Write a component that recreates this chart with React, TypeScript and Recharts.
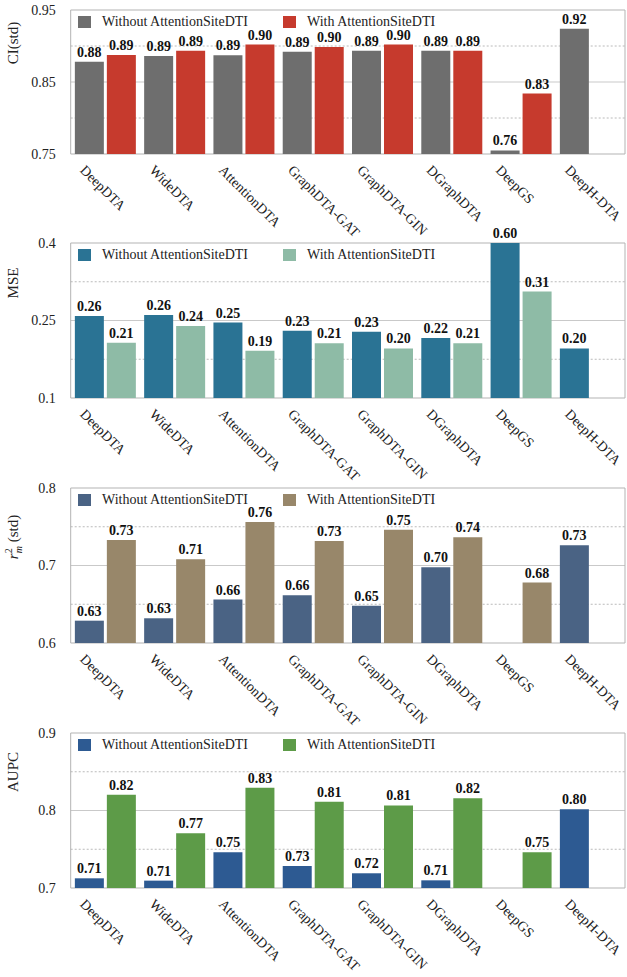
import React from 'react';
import { BarChart, Bar, XAxis, YAxis, CartesianGrid, ReferenceArea, LabelList, Legend } from 'recharts';

const categories = ['DeepDTA', 'WideDTA', 'AttentionDTA', 'GraphDTA-GAT', 'GraphDTA-GIN', 'DGraphDTA', 'DeepGS', 'DeepH-DTA'];

const ciWithout = [0.878, 0.886, 0.887, 0.892, 0.8935, 0.8935, 0.755, 0.924];
const ciWith = [0.8875, 0.8935, 0.902, 0.8986, 0.902, 0.8935, 0.834, null];

const mseWithout = [0.2587, 0.2606, 0.246, 0.230, 0.228, 0.216, 0.60, 0.196];
const mseWith = [0.207, 0.2394, 0.1915, 0.206, 0.196, 0.206, 0.306, null];

const rmWithout = [0.6288, 0.6319, 0.656, 0.6615, 0.648, 0.6977, null, 0.726];
const rmWith = [0.7329, 0.708, 0.756, 0.7316, 0.746, 0.7364, 0.678, null];

const aupcWithout = [0.7125, 0.7095, 0.746, 0.7284, 0.719, 0.7099, null, 0.8016];
const aupcWith = [0.8204, 0.7705, 0.8294, 0.8114, 0.8066, 0.8157, 0.746, null];

const legendNames = ['Without AttentionSiteDTI', 'With AttentionSiteDTI'];

const FONT = '"Liberation Serif", "Times New Roman", serif';
const MT = 20;
const XH = 95;

type Panel = {
  key: string;
  top: number;
  plotH: number;
  domain: [number, number];
  without: (number | null)[];
  withV: (number | null)[];
  colors: [string, string];
  title: React.ReactNode;
  titleY: number;
};

const panels: Panel[] = [
  {
    key: 'ci', top: 10, plotH: 144, domain: [0.75, 0.95], without: ciWithout, withV: ciWith,
    colors: ['#6e6e6e', '#c63a2d'], title: 'CI(std)', titleY: 33,
  },
  {
    key: 'mse', top: 243, plotH: 155, domain: [0.1, 0.4], without: mseWithout, withV: mseWith,
    colors: ['#2a7394', '#8ebba6'], title: 'MSE', titleY: 40,
  },
  {
    key: 'rm', top: 488, plotH: 155, domain: [0.6, 0.8], without: rmWithout, withV: rmWith,
    colors: ['#4a6384', '#98876a'], title: 'rm', titleY: 49,
  },
  {
    key: 'aupc', top: 733, plotH: 155, domain: [0.7, 0.9], without: aupcWithout, withV: aupcWith,
    colors: ['#2d5a92', '#5d9b48'], title: 'AUPC', titleY: 39,
  },
];

const XTick = (props: any) => {
  const { x, y, payload } = props;
  const px = Number(x) - 26;
  const py = Number(y) + 17;
  return (
    <g transform={`translate(${px}, ${py}) rotate(45)`}>
      <text x={0} y={0} textAnchor="start" fontFamily={FONT} fontSize={14} fill="#222">
        {payload.value}
      </text>
    </g>
  );
};

const makeValueLabel = (top: number) => (props: any) => {
  const { x, y, width, value } = props;
  if (value === null || value === undefined) return null;
  const ty = Math.max(Number(y), top) - 5;
  return (
    <text x={Number(x) + Number(width) / 2} y={ty} textAnchor="middle" fontFamily={FONT}
      fontWeight="bold" fontSize={14} fill="#111">
      {Number(value).toFixed(2)}
    </text>
  );
};

const AxisTitle = ({ panel }: { panel: Panel }) => {
  const cx = 18;
  const cy = MT + panel.titleY;
  if (panel.key === 'rm') {
    return (
      <text transform={`translate(${cx}, ${cy}) rotate(-90)`} textAnchor="middle" fontFamily={FONT} fontSize={15} fill="#222">
        <tspan fontStyle="italic">r</tspan>
        <tspan fontSize={10} dy={-6}>2</tspan>
        <tspan fontSize={10} fontStyle="italic" dx={-5} dy={10}>m</tspan>
        <tspan dy={-4}>{'  (std)'}</tspan>
      </text>
    );
  }
  return (
    <text transform={`translate(${cx}, ${cy}) rotate(-90)`} textAnchor="middle" fontFamily={FONT} fontSize={15} fill="#222">
      {panel.title}
    </text>
  );
};

const makeLegend = (colors: [string, string]) => () => (
  <div style={{ position: 'relative', height: 16, fontFamily: FONT, fontSize: 14, color: '#222' }}>
    {legendNames.map((n, i) => (
      <div key={n} style={{ position: 'absolute', left: i === 0 ? 0 : 205, top: 0, display: 'flex', alignItems: 'center', whiteSpace: 'nowrap' }}>
        <span style={{ display: 'inline-block', width: 13, height: 12, background: colors[i], marginRight: 11 }} />
        <span>{n}</span>
      </div>
    ))}
  </div>
);

const PanelChart = ({ panel }: { panel: Panel }) => {
  const data = categories.map((c, i) => ({ name: c, without: panel.without[i], with: panel.withV[i] }));
  const [lo, hi] = panel.domain;
  const mid = (lo + hi) / 2;
  const q1 = (lo + mid) / 2;
  const q3 = (mid + hi) / 2;
  const H = MT + panel.plotH + XH;
  return (
    <div style={{ position: 'absolute', left: 0, top: panel.top - MT, width: 627, height: H }}>
      <BarChart width={627} height={H} data={data} margin={{ top: MT, right: 2, left: 0, bottom: 0 }}
        barCategoryGap="6%" barGap={3} style={{ overflow: 'visible' }}>
        <CartesianGrid vertical={false} horizontalValues={[mid]} stroke="#c9c9c9" strokeWidth={1} />
        <CartesianGrid vertical={false} horizontalValues={[q1, q3]} stroke="#a8a8a8" strokeWidth={0.8} strokeDasharray="2 2" />
        <XAxis dataKey="name" interval={0} tickLine={false} axisLine={false} tickSize={0} tickMargin={0}
          height={XH} tick={<XTick />} />
        <YAxis width={70.7} domain={[lo, hi]} ticks={[lo, mid, hi]} allowDataOverflow
          tickLine={false} axisLine={false} tickSize={0} tickMargin={15}
          tickFormatter={(v: number) => String(Number(v.toFixed(2)))}
          tick={{ fontFamily: FONT, fontSize: 14, fill: '#222' }}
          label={<AxisTitle panel={panel} />} />
        <Legend layout="horizontal" verticalAlign="middle" align="center"
          wrapperStyle={{ top: MT + 4, left: 78, width: 500, height: 16 }}
          content={makeLegend(panel.colors)} />
        <Bar dataKey="without" name={legendNames[0]} fill={panel.colors[0]} isAnimationActive={false}>
          <LabelList dataKey="without" content={makeValueLabel(MT)} />
        </Bar>
        <Bar dataKey="with" name={legendNames[1]} fill={panel.colors[1]} isAnimationActive={false}>
          <LabelList dataKey="with" content={makeValueLabel(MT)} />
        </Bar>
        <ReferenceArea y1={lo} y2={hi} fill="none" stroke="#b3b3b3" strokeWidth={1} ifOverflow="visible" />
      </BarChart>
    </div>
  );
};

export default function App() {
  return (
    <div style={{ position: 'absolute', left: 0, top: 0, width: 627, height: 977, background: '#fff', overflow: 'hidden' }}>
      {panels.map((p) => (
        <PanelChart key={p.key} panel={p} />
      ))}
    </div>
  );
}
